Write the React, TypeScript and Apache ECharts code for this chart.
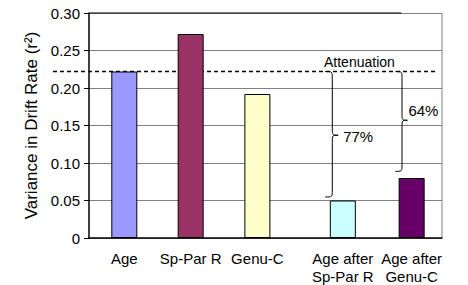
import React, { useEffect, useRef } from "react";
import * as echarts from "echarts";

const categories = ["Age", "Sp-Par R", "Genu-C", "Age after\nSp-Par R", "Age after\nGenu-C"];
const xPositions = [1.0, 2.88, 4.77, 7.19, 9.14];
const values = [0.222, 0.272, 0.192, 0.05, 0.08];
const barColors = ["#9999FF", "#993366", "#FFFFCC", "#CCFFFF", "#660066"];
const attenuationLevel = 0.222;
const attenuationText = "Attenuation";
const braceLabels = ["77%", "64%"];
const braceBottoms = [0.0547, 0.0888];
const braceTips = [0.137, 0.157];

const FONT = "'Liberation Sans', Arial, sans-serif";

export default function App() {
  const ref = useRef<HTMLDivElement>(null);
  useEffect(() => {
    if (!ref.current) return;
    const chart = echarts.init(ref.current, undefined, { renderer: "svg" });
    chart.setOption({
      animation: false,
      grid: { left: 89, right: 26, top: 13, bottom: 45 },
      xAxis: {
        type: "value",
        min: 0,
        max: 10,
        splitLine: { show: false },
        axisLine: { onZero: false, lineStyle: { color: "#000", width: 1.5 } },
        axisTick: { show: false },
        axisLabel: {
          customValues: xPositions,
          hideOverlap: false,
          showMinLabel: true,
          showMaxLabel: true,
          color: "#000",
          fontSize: 15,
          fontFamily: FONT,
          margin: 11,
          lineHeight: 18,
          formatter: (v: number) => {
            let i = -1;
            xPositions.forEach((p, k) => {
              if (Math.abs(p - v) < 0.01) i = k;
            });
            return i < 0 ? "" : categories[i];
          },
        },
      },
      yAxis: {
        type: "value",
        min: 0,
        max: 0.3,
        interval: 0.05,
        name: "Variance in Drift Rate (r²)",
        nameLocation: "middle",
        nameGap: 47,
        nameTextStyle: { color: "#000", fontSize: 17, fontFamily: FONT },
        axisLine: { show: true, lineStyle: { color: "#000", width: 1.5 } },
        axisTick: { show: true, length: 5, lineStyle: { color: "#000" } },
        axisLabel: {
          color: "#000",
          fontSize: 15,
          fontFamily: FONT,
          margin: 9,
          formatter: (v: number) => (v === 0 ? "0" : v.toFixed(2)),
        },
        splitLine: { lineStyle: { color: "#808080", width: 1 } },
      },
      series: [
        {
          type: "bar",
          data: values.map((v, i) => ({ value: [xPositions[i], v], itemStyle: { color: barColors[i] } })),
          barWidth: 26,
          itemStyle: { borderColor: "#000", borderWidth: 1 },
        },
      ],
    });

    const px = (x: number, v: number) => chart.convertToPixel({ gridIndex: 0 }, [x, v]) as number[];
    const yA = px(0, attenuationLevel)[1];
    const [gx0, gy0] = px(0, 0);
    const [gx1, gy1] = px(10, 0.3);
    const lineStyle = { stroke: "#000", lineWidth: 1, fill: null };

    const brace = (x0: number, w: number, yTop: number, yBot: number, yTip: number) => {
      const xm = x0 + w * 0.55;
      const r = 7;
      const els: any[] = [];
      els.push({ type: "bezierCurve", shape: { x1: x0, y1: yTop, cpx1: xm, cpy1: yTop, cpx2: xm, cpy2: yTop, x2: xm, y2: yTop + r }, style: lineStyle });
      els.push({ type: "line", shape: { x1: xm, y1: yTop + r, x2: xm, y2: yTip - r }, style: lineStyle });
      els.push({ type: "bezierCurve", shape: { x1: xm, y1: yTip - r, cpx1: xm, cpy1: yTip, cpx2: xm, cpy2: yTip, x2: x0 + w, y2: yTip }, style: lineStyle });
      els.push({ type: "bezierCurve", shape: { x1: x0 + w, y1: yTip, cpx1: xm, cpy1: yTip, cpx2: xm, cpy2: yTip, x2: xm, y2: yTip + r }, style: lineStyle });
      els.push({ type: "line", shape: { x1: xm, y1: yTip + r, x2: xm, y2: yBot - r }, style: lineStyle });
      els.push({ type: "bezierCurve", shape: { x1: xm, y1: yBot - r, cpx1: xm, cpy1: yBot, cpx2: xm, cpy2: yBot, x2: x0, y2: yBot }, style: lineStyle });
      return els;
    };

    const b1x = px(6.69, 0)[0];
    const b2x = px(8.68, 0)[0];
    const tip1 = px(0, braceTips[0])[1];
    const tip2 = px(0, braceTips[1])[1];

    chart.setOption({
      graphic: [
        { type: "line", shape: { x1: gx0, y1: gy1, x2: px(8.85, 0)[0], y2: gy1 }, style: { stroke: "#000", lineWidth: 1.2 } },
        { type: "line", shape: { x1: gx1, y1: gy1, x2: gx1, y2: gy0 }, style: { stroke: "#808080", lineWidth: 1 } },
        { type: "line", shape: { x1: gx0 - 36, y1: yA, x2: gx1 - 5, y2: yA }, style: { stroke: "#000", lineWidth: 1.5, lineDash: [4, 3] } },
        { type: "text", x: px(7.66, 0)[0], y: px(0, 0.235)[1], style: { text: attenuationText, fill: "#000", font: `14px ${FONT}`, textAlign: "center", textVerticalAlign: "middle" } },
        ...brace(b1x, 13, yA, px(0, braceBottoms[0])[1], tip1),
        ...brace(b2x, 12, yA, px(0, braceBottoms[1])[1], tip2),
        { type: "text", x: b1x + 18, y: tip1 + 1, style: { text: braceLabels[0], fill: "#000", font: `15px ${FONT}`, textAlign: "left", textVerticalAlign: "middle" } },
        { type: "text", x: b2x + 13, y: px(0, 0.17)[1], style: { text: braceLabels[1], fill: "#000", font: `15px ${FONT}`, textAlign: "left", textVerticalAlign: "middle" } },
      ],
    });
    return () => chart.dispose();
  }, []);
  return <div ref={ref} style={{ position: "absolute", left: 0, top: 0, width: 468, height: 285 }} />;
}
